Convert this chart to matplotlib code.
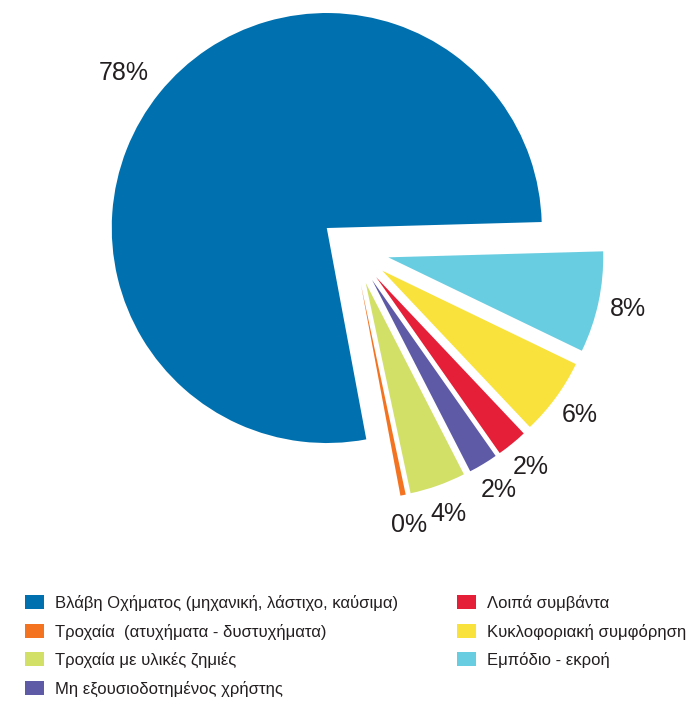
import matplotlib
matplotlib.use("Agg")
import matplotlib.pyplot as plt
import numpy as np

categories = [
    "Βλάβη Οχήματος (μηχανική, λάστιχο, καύσιμα)",
    "Τροχαία  (ατυχήματα - δυστυχήματα)",
    "Τροχαία με υλικές ζημιές",
    "Μη εξουσιοδοτημένος χρήστης",
    "Λοιπά συμβάντα",
    "Κυκλοφοριακή συμφόρηση",
    "Εμπόδιο - εκροή",
]
values = [77.5, 0.4, 4.2, 2.2, 2.3, 5.8, 7.6]
colors = ["#0070ae", "#f47320", "#d2e068", "#5e5aa6", "#e41f37", "#f8e23b", "#69cde1"]

W, H = 693, 706
fig = plt.figure(figsize=(W / 100, H / 100), dpi=100)
ax = fig.add_axes([0, 0, 1, 1])

R = 215
cx, cy = 354, H - 250
explode = [35] * len(values)  # data units (pixels here)

wedges, texts, autotexts = ax.pie(
    values, colors=colors, explode=explode, startangle=1.6,
    radius=R, center=(cx, cy), counterclock=True,
    autopct="%.0f%%", pctdistance=1.14,
    textprops=dict(fontsize=18, color="#231f20", family=["Liberation Sans", "DejaVu Sans"]),
    wedgeprops=dict(linewidth=0),
)
# push the big slice label a bit further out
w0 = wedges[0]
ang = np.deg2rad((w0.theta1 + w0.theta2) / 2 + 1.5)
c0 = w0.center
autotexts[0].set_position((c0[0] + 1.19 * R * np.cos(ang), c0[1] + 1.19 * R * np.sin(ang)))

ax.set_xlim(0, W)
ax.set_ylim(0, H)
ax.set_aspect("equal")
ax.axis("off")

fs = 12
px = fs * 100 / 72
leg = ax.legend(
    wedges, categories, ncol=2, loc="upper left",
    bbox_to_anchor=(25 / W, 1 - 595 / H), bbox_transform=fig.transFigure,
    frameon=False, borderpad=0, borderaxespad=0,
    handlelength=19 / px, handleheight=15 / px, handletextpad=11 / px,
    labelspacing=0.75, columnspacing=3.52,
    prop=dict(family=["Liberation Sans", "DejaVu Sans"], size=fs),
)
for t in leg.get_texts():
    t.set_color("#231f20")

fig.savefig("out.png", dpi=100)
